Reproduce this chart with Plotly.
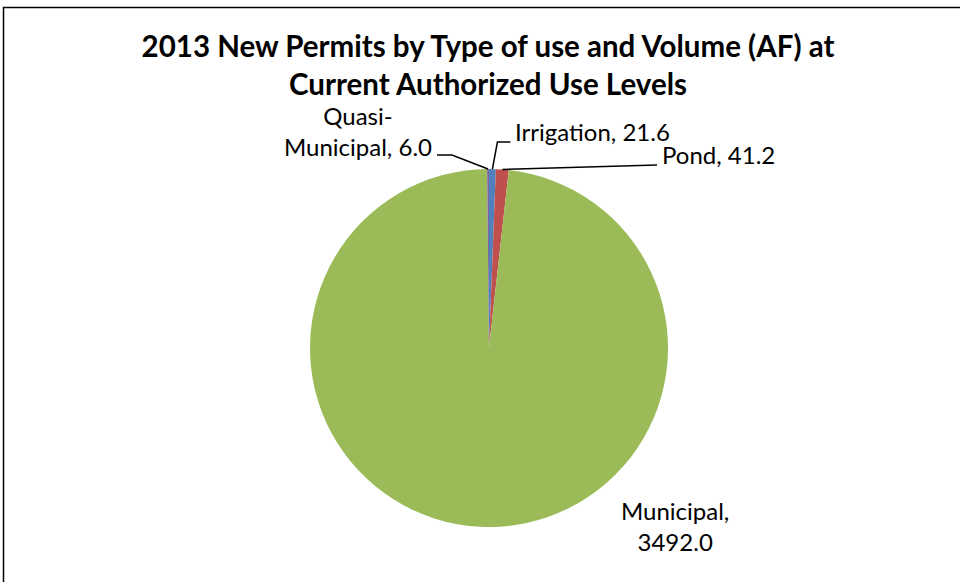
import math
import plotly.graph_objects as go

categories = ["Irrigation", "Pond", "Municipal", "Quasi-Municipal"]
values = [21.6, 41.2, 3492.0, 6.0]
colors = ["#4F81BD", "#C0504D", "#9BBB59", "#8064A2"]
label_text = ["Irrigation, 21.6", "Pond, 41.2", "Municipal,<br>3492.0", "Quasi-<br>Municipal, 6.0"]

W, H = 960, 582
CX, CY, R = 489, 348, 179

def px(x):
    return x / W

def py(y):
    return 1 - y / H

fig = go.Figure(go.Pie(
    labels=categories, values=values, sort=False, direction="clockwise", rotation=0,
    marker=dict(colors=colors, line=dict(width=0)),
    textinfo="none", hoverinfo="label+value", showlegend=False,
    domain=dict(x=[px(CX - R), px(CX + R)], y=[py(CY + R), py(CY - R)]),
))

# slice mid-angle edge points computed from data
total = sum(values)
mids = []
acc = 0
for v in values:
    mids.append((acc + v / 2) / total * 360)
    acc += v

def edge(i):
    a = math.radians(mids[i])
    return CX + R * math.sin(a), CY - R * math.cos(a)

font = dict(family="Lato, Calibri, sans-serif", size=24, color="#000")
shapes = []
annotations = []

# Irrigation: elbow leader
ex, ey = edge(0)
shapes.append(dict(type="path", xref="paper", yref="paper",
                   path=f"M {px(ex)},{py(ey)} L {px(ex+5)},{py(142)} L {px(ex+18)},{py(142)}",
                   line=dict(color="#000", width=1.5)))
annotations.append(dict(x=px(513), y=py(132), text=label_text[0], showarrow=False,
                        xanchor="left", yanchor="middle", font=font, xref="paper", yref="paper"))
# Pond
ex, ey = edge(1)
shapes.append(dict(type="path", xref="paper", yref="paper",
                   path=f"M {px(ex)},{py(ey)} L {px(657)},{py(165)}",
                   line=dict(color="#000", width=1.5)))
annotations.append(dict(x=px(660), y=py(155), text=label_text[1], showarrow=False,
                        xanchor="left", yanchor="middle", font=font, xref="paper", yref="paper"))
# Quasi-Municipal
ex, ey = edge(3)
shapes.append(dict(type="path", xref="paper", yref="paper",
                   path=f"M {px(ex)},{py(ey)} L {px(452)},{py(155)} L {px(437)},{py(155)}",
                   line=dict(color="#000", width=1.5)))
annotations.append(dict(x=px(358), y=py(131), text=label_text[3], showarrow=False,
                        xanchor="center", yanchor="middle", font=font, xref="paper", yref="paper",
                        align="center"))
# Municipal
annotations.append(dict(x=px(675), y=py(526), text=label_text[2], showarrow=False,
                        xanchor="center", yanchor="middle", font=font, xref="paper", yref="paper",
                        align="center"))

# chart border
shapes.append(dict(type="rect", xref="paper", yref="paper", x0=px(3.5), y0=-0.02, x1=1.02, y1=py(7.5),
                   line=dict(color="#000", width=1.5), fillcolor="rgba(0,0,0,0)"))

fig.update_layout(
    width=W, height=H, margin=dict(l=0, r=0, t=0, b=0),
    paper_bgcolor="white", plot_bgcolor="white",
    title=dict(text="<b>2013 New Permits by Type of use and Volume (AF) at<br>Current Authorized Use Levels</b>",
               x=px(488), xanchor="center", y=py(57), yanchor="top",
               font=dict(family="Lato, Calibri, sans-serif", size=29.5, color="#000")),
    shapes=shapes, annotations=annotations,
)

fig.write_html("out.html")
